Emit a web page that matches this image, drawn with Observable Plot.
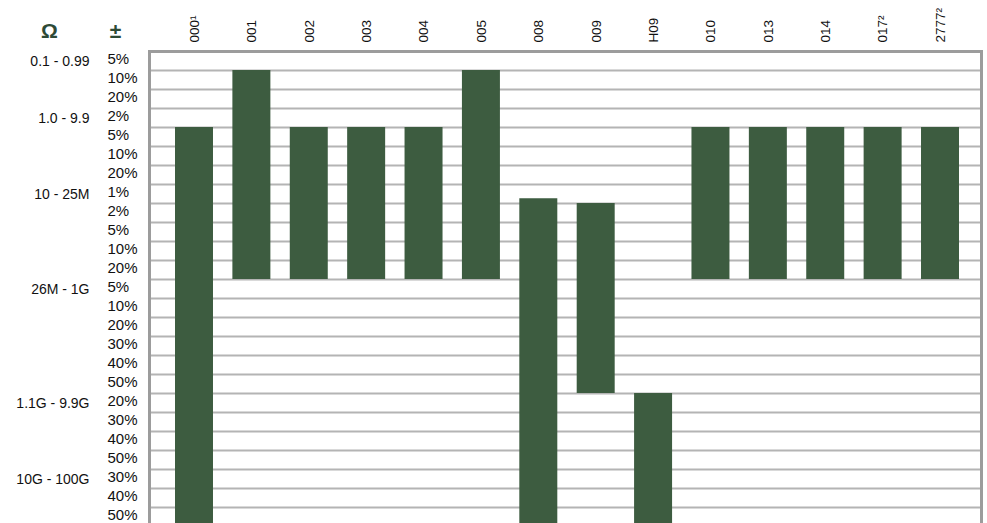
<!DOCTYPE html>
<html><head><meta charset="utf-8">
<script src="https://cdn.jsdelivr.net/npm/d3@7"></script>
<script src="https://cdn.jsdelivr.net/npm/@observablehq/plot@0.6"></script>
<style>body{margin:0;background:#fff}</style>
</head><body><div id="chart"></div>
<script>
const categories = ["000¹","001","002","003","004","005","008","009","H09","010","013","014","017²","2777²"];
const barStart = [4, 1, 4, 4, 4, 1, 7.75, 8, 18, 4, 4, 4, 4, 4];
const barEnd   = [25, 12, 12, 12, 12, 12, 25, 18, 25, 12, 12, 12, 12, 12];
const toleranceLabels = ["5%","10%","20%","2%","5%","10%","20%","1%","2%","5%","10%","20%","5%","10%","20%","30%","40%","50%","20%","30%","40%","50%","30%","40%","50%"];
const rangeLabels = ["0.1 - 0.99","1.0 - 9.9","10 - 25M","26M - 1G","1.1G - 9.9G","10G - 100G"];
const rangeStartRow = [0, 3, 7, 12, 18, 22];
const headerOhm = "Ω";
const headerTol = "±";

const bars = categories.map((c, i) => ({cat: c, y1: barStart[i], y2: barEnd[i]}));
const rows = toleranceLabels.map((t, i) => ({row: i + 0.5, label: t}));
const ranges = rangeLabels.map((t, i) => ({row: rangeStartRow[i] + 0.5, label: t}));
const gridRows = d3.range(1, toleranceLabels.length);

const chart = Plot.plot({
  width: 987, height: 523,
  marginLeft: 149, marginRight: 6, marginTop: 51, marginBottom: 0,
  style: {fontFamily: "'Liberation Sans', Arial, sans-serif", fontSize: "13px", background: "#fff", color: "#111"},
  x: {type: "band", domain: categories, paddingInner: 0.338, paddingOuter: 0, round: false, insetLeft: 26, insetRight: 22, axis: null},
  y: {domain: [0, toleranceLabels.length], range: [51, 526], axis: null},
  marks: [
    Plot.ruleY(gridRows, {stroke: "#b4b4b4", strokeWidth: 2}),
    Plot.barY(bars, {x: "cat", y1: "y1", y2: "y2", fill: "#3d5c40"}),
    Plot.frame({stroke: "#9c9c9c", strokeWidth: 3, insetBottom: -8}),
    Plot.text(rows, {y: "row", text: "label", frameAnchor: "left", dx: -42, dy: -1.5, textAnchor: "start", lineAnchor: "middle", fill: "#111", fontSize: 15}),
    Plot.text(ranges, {y: "row", text: "label", frameAnchor: "left", dx: -60, dy: 0.5, textAnchor: "end", lineAnchor: "middle", fill: "#111", fontSize: 14}),
    Plot.text(categories, {x: d => d, text: d => d, frameAnchor: "top", rotate: -90, textAnchor: "start", lineAnchor: "middle", dy: -9, fill: "#111", fontSize: 13.5}),
    Plot.text([headerOhm], {text: d => d, frameAnchor: "top-left", textAnchor: "middle", lineAnchor: "middle", dx: -100, dy: -20.5, fontSize: 21, fontWeight: "bold", fill: "#2e4a36"}),
    Plot.text([headerTol], {text: d => d, frameAnchor: "top-left", textAnchor: "middle", lineAnchor: "middle", dx: -34, dy: -20.5, fontSize: 21, fontWeight: "bold", fill: "#2e4a36"})
  ]
});
document.getElementById("chart").append(chart);
</script>
</body></html>
